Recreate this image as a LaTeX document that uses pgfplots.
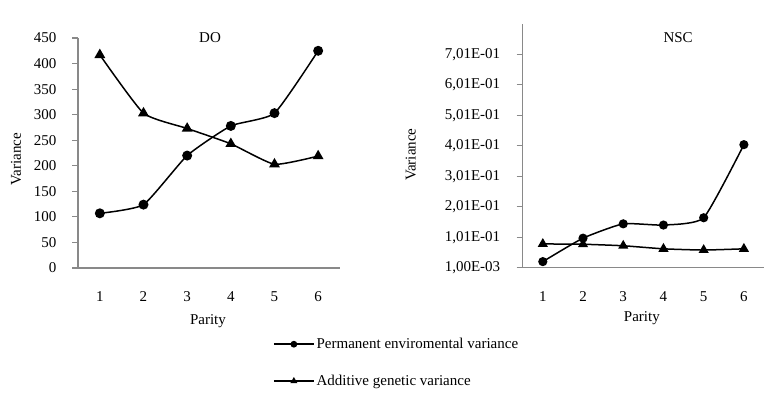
\documentclass[border=0pt]{standalone}
\usepackage{pgfplots}
\pgfplotsset{compat=1.18}
\usepackage{fontspec}
\setmainfont{Liberation Serif}
\definecolor{axgray}{HTML}{898989}
\newcommand{\fs}{\fontsize{15bp}{17bp}\selectfont}
\pgfplotsset{
  mystyle/.style={
    scale only axis,
    anchor=south west,
    axis x line*=bottom, axis y line*=left,
    axis line style={draw=axgray, line width=1.3bp},
    xmin=0.5, xmax=6.5, xtick={1,2,3,4,5,6},
    tick align=outside,
    major tick length=6bp,
    major tick style={draw=axgray, line width=1.1bp},
    xtick style={draw=none},
    every tick label/.append style={font=\fs},
    /pgf/number format/assume math mode=true,
    label style={font=\fs},
    title style={font=\fs},
    xticklabel style={yshift=-14bp},
    clip=false,
    every axis plot/.append style={black, line width=1.5bp, smooth, tension=0.3},
  }
}
\begin{document}
\begin{tikzpicture}
\path[use as bounding box] (0,0) rectangle (784bp,-398bp);
\begin{axis}[mystyle,
  at={(78bp,-268bp)}, width=262bp, height=230bp,
  ymin=0, ymax=450, ytick={0,50,...,450},
  yticklabel style={xshift=-12bp},
  title={DO}, title style={at={(rel axis cs:0.504,1.004)}, anchor=center, yshift=-6bp},
  xlabel={Parity}, xlabel style={at={(rel axis cs:0.496,0)}, yshift=-53bp, anchor=center},
  ylabel={Variance}, ylabel style={at={(rel axis cs:0,0.474)}, yshift=62bp, anchor=center},
  legend style={at={(rel axis cs:0.744,-0.296)}, anchor=north west, draw=none, fill=none,
    font=\fs, inner sep=0pt, row sep=21bp, cells={anchor=west}},
  legend image code/.code={\draw[mark repeat=2,mark phase=2,#1,mark size=2.6bp] plot coordinates {(0bp,0bp) (20bp,0bp) (40bp,0bp)};},
]
\addplot[mark=*, mark size=4.2bp, mark options={solid}] coordinates {(1,107) (2,124) (3,220) (4,278) (5,303) (6,425)};
\addlegendentry{Permanent enviromental variance}
\addplot[mark=triangle*, mark size=4.8bp, mark options={solid}] coordinates {(1,417) (2,303) (3,273) (4,243) (5,203) (6,219)};
\addlegendentry{Additive genetic variance}
\end{axis}
\begin{axis}[mystyle,
  at={(522.7bp,-267.7bp)}, width=241.3bp, height=243.7bp,
  ymin=0.001, ymax=0.801,
  ytick={0.001,0.101,0.201,0.301,0.401,0.501,0.601,0.701},
  yticklabels={{1,00E-03},{1,01E-01},{2,01E-01},{3,01E-01},{4,01E-01},{5,01E-01},{6,01E-01},{7,01E-01}},
  yticklabel style={xshift=-13bp},
  scaled y ticks=false,
  title={NSC}, title style={at={(rel axis cs:0.644,0.944)}, anchor=center, yshift=-6bp},
  xlabel={Parity}, xlabel style={at={(rel axis cs:0.494,0)}, yshift=-50bp, anchor=center},
  ylabel={Variance}, ylabel style={at={(rel axis cs:0,0.464)}, yshift=112bp, anchor=center},
]
\addplot[mark=*, mark size=3.8bp, mark options={solid}] coordinates {(1,0.021) (2,0.098) (3,0.145) (4,0.141) (5,0.165) (6,0.405)};
\addplot[mark=triangle*, mark size=4.4bp, mark options={solid}] coordinates {(1,0.079) (2,0.078) (3,0.073) (4,0.063) (5,0.059) (6,0.063)};
\end{axis}
\end{tikzpicture}
\end{document}
